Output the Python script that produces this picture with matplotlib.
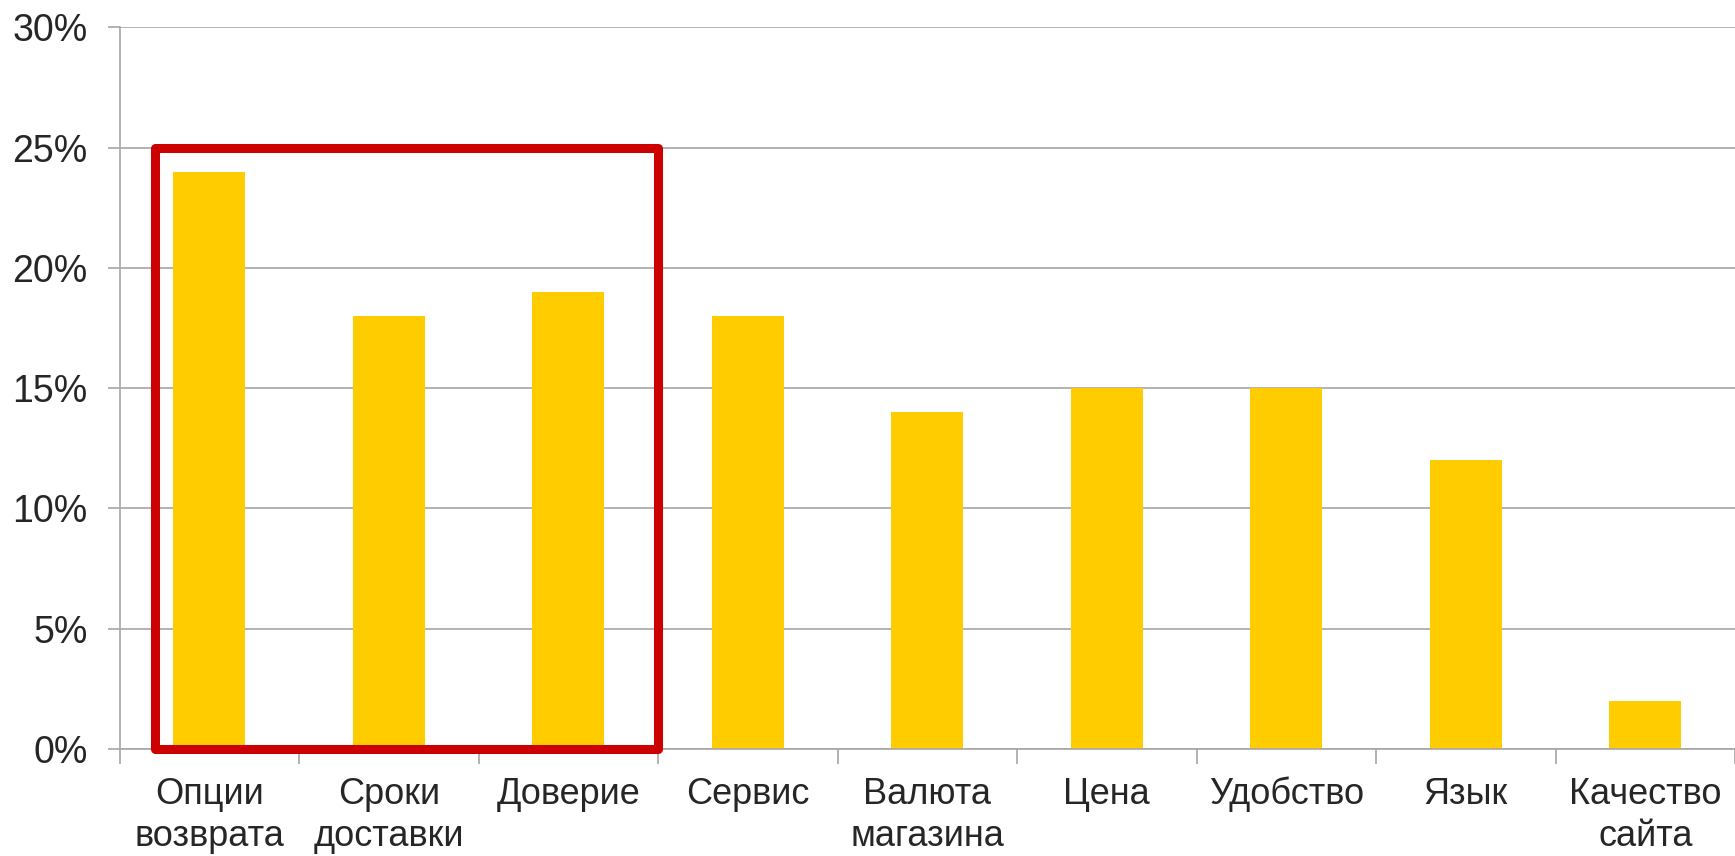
import matplotlib
matplotlib.use("Agg")
import matplotlib.pyplot as plt
import matplotlib.patches as patches
from matplotlib.ticker import FuncFormatter, MultipleLocator
import numpy as np

categories = ["Опции\nвозврата", "Сроки\nдоставки", "Доверие", "Сервис",
              "Валюта\nмагазина", "Цена", "Удобство", "Язык", "Качество\nсайта"]
values = [0.24, 0.18, 0.19, 0.18, 0.14, 0.15, 0.15, 0.12, 0.02]
highlight_start = 0
highlight_end = 2
highlight_top = 0.25

plt.rcParams['font.family'] = ['Liberation Sans', 'DejaVu Sans']

fig = plt.figure(figsize=(17.35, 8.56), dpi=100)
ax = fig.add_axes([0.0689, 0.125, 0.9311, 0.843])

x = np.arange(len(categories))
ax.bar(x, values, width=0.4, color="#FFCC00", zorder=2)

ax.set_xlim(-0.5, len(categories) - 0.5)
ax.set_ylim(0, 0.30)
ax.yaxis.set_major_locator(MultipleLocator(0.05))
ax.yaxis.set_major_formatter(FuncFormatter(lambda v, p: f"{v*100:.0f}%"))
ax.grid(axis="y", color="#A6A6A6", linewidth=1.2, zorder=0)
ax.set_axisbelow(True)

ax.set_xticks(x)
ax.set_xticklabels(categories, fontsize=26, color="#262626", linespacing=1.27)
ax.set_xticks(np.arange(len(categories) + 1) - 0.5, minor=True)
ax.tick_params(axis="x", which="major", length=0, pad=20)
ax.tick_params(axis="x", which="minor", length=11, width=1.2, color="#A6A6A6")
ax.tick_params(axis="y", which="major", length=9, width=1.2, color="#A6A6A6",
               labelsize=27, labelcolor="#262626", pad=14)

for s in ["top", "right"]:
    ax.spines[s].set_visible(False)
for s in ["left", "bottom"]:
    ax.spines[s].set_color("#A6A6A6")
    ax.spines[s].set_linewidth(1.2)

x0 = highlight_start - 0.303
x1 = highlight_end + 0.498
rect = patches.Rectangle((x0, 0), x1 - x0, highlight_top, fill=False,
                         edgecolor="#CC0000", linewidth=6.5, joinstyle="round",
                         zorder=5, clip_on=False)
ax.add_patch(rect)

fig.savefig("out.png", dpi=100)
